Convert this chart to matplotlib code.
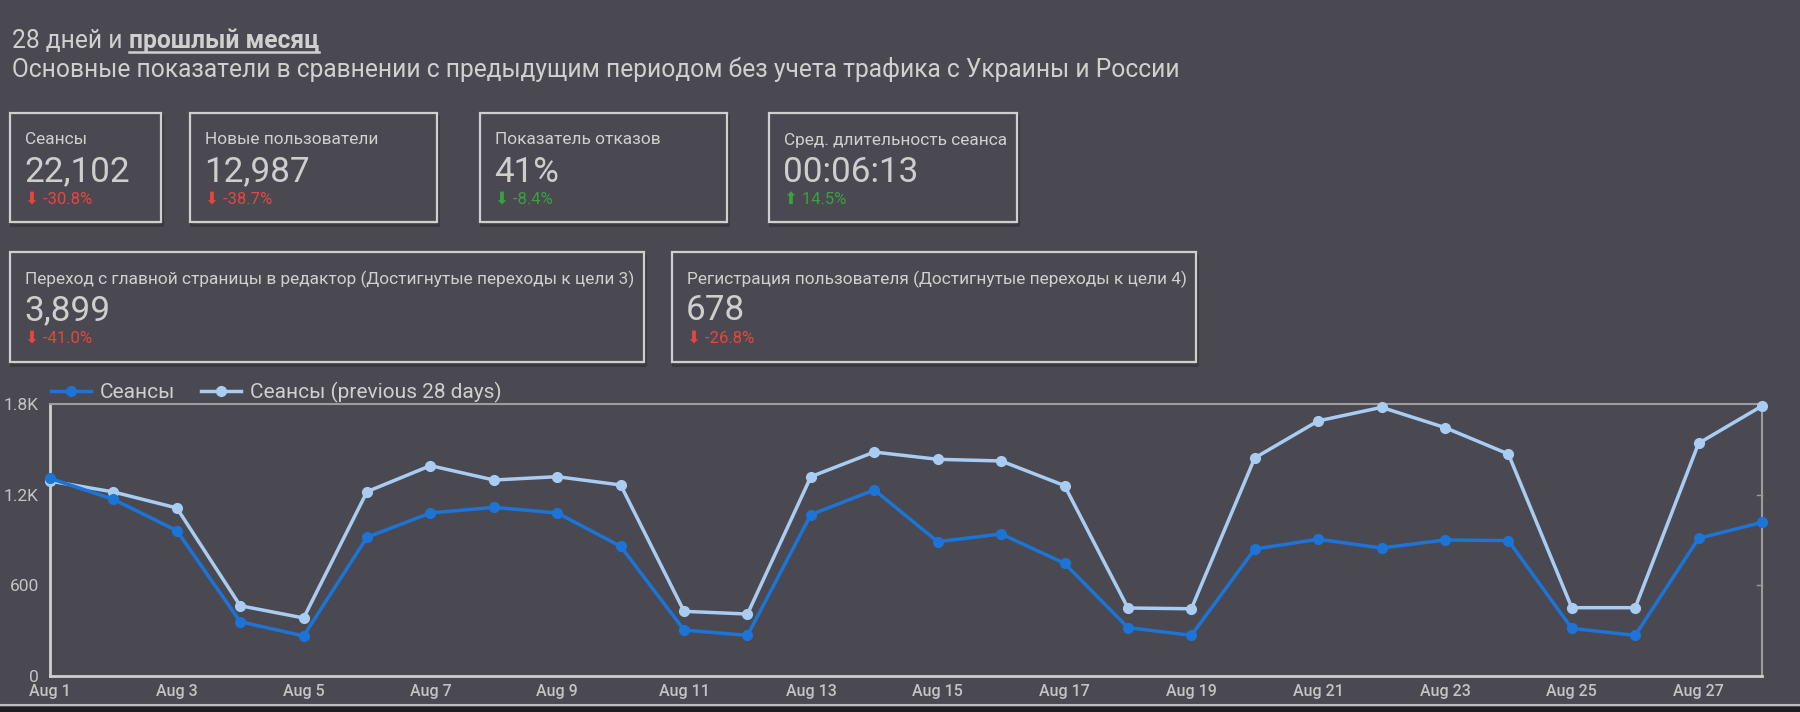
# dashboard style chart: KPI cards + sessions line chart vs previous period
import numpy as np
import matplotlib
matplotlib.use('Agg')
import matplotlib.pyplot as plt
from matplotlib.patches import Rectangle
from matplotlib.lines import Line2D

plt.rcParams['font.family'] = ['Roboto', 'DejaVu Sans']

# data
days = list(range(1, 29))
sessions = [1308, 1169, 962, 359, 265, 918, 1079, 1116, 1079, 858, 304, 269, 1068, 1231,
            889, 940, 746, 320, 269, 840, 905, 847, 900, 896, 315, 269, 911, 1017]
sessions_prev = [1290, 1218, 1112, 465, 384, 1220, 1392, 1297, 1319, 1264, 428, 410, 1319, 1482,
                 1434, 1423, 1260, 450, 445, 1443, 1688, 1778, 1644, 1469, 452, 452, 1540, 1787]
tick_days = list(range(1, 29, 2))
tick_labels = ['Aug ' + str(d) for d in tick_days]
y_ticks = [0, 600, 1200, 1800]
y_labels = ['0', '600', '1.2K', '1.8K']
series_names = ['Сеансы', 'Сеансы (previous 28 days)']

kpi_labels = ['Сеансы', 'Новые пользователи', 'Показатель отказов', 'Сред. длительность сеанса',
              'Переход с главной страницы в редактор (Достигнутые переходы к цели 3)',
              'Регистрация пользователя (Достигнутые переходы к цели 4)']
kpi_values = ['22,102', '12,987', '41%', '00:06:13', '3,899', '678']
kpi_changes = ['-30.8%', '-38.7%', '-8.4%', '14.5%', '-41.0%', '-26.8%']
kpi_down = [True, True, True, False, True, True]
kpi_good = [False, False, True, True, False, False]

W, H = 1800, 712
bg = '#4a4952'
txt = '#d0d0d0'
red = '#e8453c'
green = '#3aa13f'
c_cur = '#1c74d6'
c_prev = '#a9cdf2'

fig = plt.figure(figsize=(W / 100, H / 100), dpi=100, facecolor=bg)

def fx(x):
    return x / W

def fy(y):
    return 1 - y / H

# header
t1 = fig.text(fx(12), fy(41), '28 дней и ', fontsize=17.7, color=txt, va='center')
fig.canvas.draw()
ext = t1.get_window_extent()
t2 = fig.text(ext.x1 / W, fy(41), 'прошлый месяц', fontsize=17.7, color=txt, va='center',
              fontweight='bold')
fig.canvas.draw()
ext2 = t2.get_window_extent()
fig.add_artist(Line2D([ext2.x0 / W, ext2.x1 / W], [fy(52), fy(52)], color=txt, lw=1.8))
fig.text(fx(12), fy(70), 'Основные показатели в сравнении с предыдущим периодом без учета трафика с Украины и России',
         fontsize=17.7, color=txt, va='center')

# KPI cards: left, top, right, bottom in pixels
boxes = [(10, 113, 161, 222), (190, 113, 437, 222), (480, 113, 727, 222), (769, 113, 1017, 222),
         (10, 252, 644, 362), (672, 252, 1196, 362)]
for i, (x0, y0, x1, y1) in enumerate(boxes):
    fig.add_artist(Rectangle((fx(x0) + 1 / W, fy(y1 + 3)), (x1 - x0) / W, (y1 - y0) / H,
                             transform=fig.transFigure, facecolor='none', edgecolor='#3a3940', lw=2))
    fig.add_artist(Rectangle((fx(x0), fy(y1)), (x1 - x0) / W, (y1 - y0) / H,
                             transform=fig.transFigure, facecolor=bg, edgecolor='#cfcfcf', lw=1.6))
    lx = x0 + 15
    fig.text(fx(lx), fy(y0 + 27), kpi_labels[i], fontsize=12.4, color=txt, va='center')
    fig.text(fx(lx - 1), fy(y0 + 59), kpi_values[i], fontsize=25.3, color='#cecece', va='center')
    col = green if kpi_good[i] else red
    arrow = '⬇' if kpi_down[i] else '⬆'
    fig.text(fx(lx), fy(y0 + 86), arrow + ' ' + kpi_changes[i], fontsize=12, color=col, va='center')

# line chart
ax = fig.add_axes([fx(50), fy(676), (1762 - 50) / W, (676 - 404) / H])
ax.set_facecolor(bg)
ax.plot(days, sessions, color=c_cur, lw=2.5, marker='o', ms=7, zorder=4, label=series_names[0],
        clip_on=False)
ax.plot(days, sessions_prev, color=c_prev, lw=2.5, marker='o', ms=7, zorder=3, label=series_names[1],
        clip_on=False)
ax.set_xlim(1, 28)
ax.set_ylim(0, 1800)
ax.set_xticks(tick_days)
ax.set_xticklabels(tick_labels)
ax.set_yticks(y_ticks)
ax.set_yticklabels(y_labels)
ax.tick_params(axis='x', length=0, pad=6, labelsize=11.5, colors='#c4c4c4')
ax.tick_params(axis='y', length=0, pad=8, labelsize=12.5, colors='#c4c4c4')
for lab in ax.get_xticklabels():
    lab.set_fontweight('medium')
ax.spines['left'].set_color('#d0d0d0')
ax.spines['bottom'].set_color('#d0d0d0')
ax.spines['left'].set_linewidth(2)
ax.spines['bottom'].set_linewidth(2)
ax.spines['top'].set_color('#9c9c9c')
ax.spines['right'].set_color('#9c9c9c')
ax.spines['top'].set_linewidth(1.5)
ax.spines['right'].set_linewidth(1.5)
for yv in [600, 1200]:
    ax.plot([28 - 0.08, 28], [yv, yv], color='#9c9c9c', lw=1, clip_on=False)

leg = ax.legend(loc='lower left', bbox_to_anchor=(0, 1.0), ncol=2, frameon=False, fontsize=15,
                labelcolor='#cfcfcf', handlelength=1.9, columnspacing=1.25, borderaxespad=0.0,
                borderpad=0.05, handletextpad=0.45)

# bottom strip of the screenshot
fig.add_artist(Line2D([0, 1], [fy(705), fy(705)], color='#bdbdbd', lw=1.5))
fig.add_artist(Rectangle((0, 0), 1, fy(707), transform=fig.transFigure, facecolor='#1e1e22',
                         edgecolor='none'))

plt.savefig('out.png', dpi=100, facecolor=bg)
